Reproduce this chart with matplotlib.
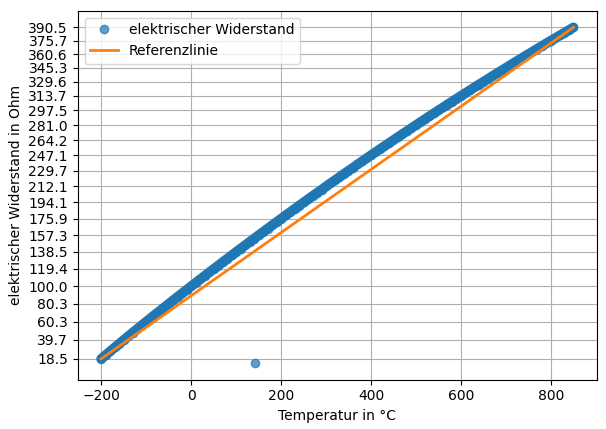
import matplotlib
matplotlib.use("Agg")
from matplotlib import pyplot as plt

# Pt100 table, 10 degree steps
temps = list(range(-200, 851, 10))
ohm = [18.52, 22.83, 27.10, 31.34, 35.54, 39.72, 43.88, 48.00, 52.11, 56.19,
       60.26, 64.30, 68.33, 72.33, 76.33, 80.31, 84.27, 88.22, 92.16, 96.09,
       100.00, 103.90, 107.79, 111.67, 115.54, 119.40, 123.24, 127.08, 130.90, 134.71,
       138.51, 142.29, 146.07, 149.83, 153.58, 157.33, 161.05, 164.77, 168.48, 172.17,
       175.86, 179.53, 183.19, 186.84, 190.47, 194.10, 197.71, 201.31, 204.90, 208.48,
       212.05, 215.61, 219.15, 222.68, 226.21, 229.72, 233.21, 236.70, 240.18, 243.64,
       247.09, 250.53, 253.96, 257.38, 260.78, 264.18, 267.56, 270.93, 274.29, 277.64,
       280.98, 284.30, 287.62, 290.92, 294.21, 297.49, 300.75, 304.01, 307.25, 310.49,
       313.71, 316.92, 320.12, 323.30, 326.48, 329.64, 332.79, 335.93, 339.06, 342.18,
       345.28, 348.38, 351.46, 354.53, 357.59, 360.64, 363.67, 366.70, 369.71, 372.71,
       375.70, 378.68, 381.65, 384.60, 387.55, 390.48]

# one bad reading in the data
glitch_t = [141]
glitch_r = [14.0]

tick_vals = ohm[::5]
tick_labels = ["%.1f" % v for v in tick_vals]

fig, ax = plt.subplots(figsize=(6.06, 4.29), dpi=100)
# dense measurement points overlap into a solid band
ax.plot(temps, ohm, "-", color="tab:blue", lw=7, solid_capstyle="round")
ax.plot(temps + glitch_t, ohm + glitch_r, "o", alpha=0.7, label="elektrischer Widerstand")
ax.plot([temps[0], temps[-1]], [ohm[0], ohm[-1]], color="tab:orange", lw=2, label="Referenzlinie")
ax.set_yticks(tick_vals)
ax.set_yticklabels(tick_labels)
ax.set_xlabel("Temperatur in °C")
ax.set_ylabel("elektrischer Widerstand in Ohm")
ax.grid(True)
ax.legend(loc="upper left")
fig.subplots_adjust(left=0.128, right=0.985, top=0.975, bottom=0.115)
fig.savefig("out.png")
